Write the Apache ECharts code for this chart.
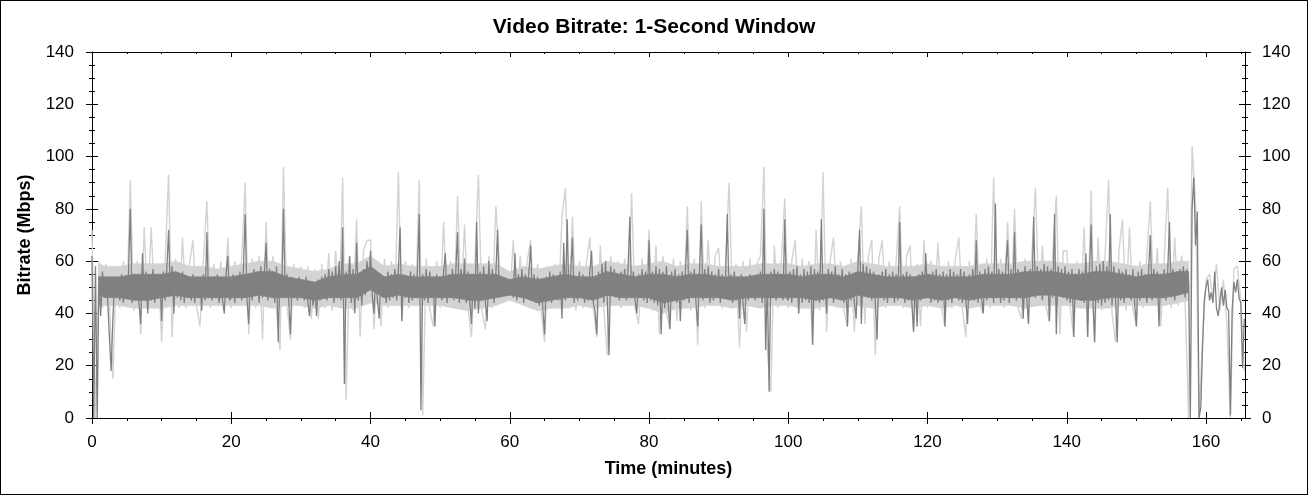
<!DOCTYPE html>
<html><head><meta charset="utf-8">
<script src="https://cdn.jsdelivr.net/npm/echarts@6/dist/echarts.min.js"></script>
<style>
html,body{margin:0;padding:0;background:#fff}
#wrap{position:relative;width:1308px;height:495px}
#c{width:1308px;height:495px}
#f{position:absolute;left:0;top:0;width:1308px;height:495px;box-sizing:border-box;border:1px solid #000;pointer-events:none}
</style>
</head><body>
<div id="wrap"><div id="c"></div><div id="f"></div></div>
<script>
// ---- Data (Mbps). Dark series: 0.25-minute steps; light envelope: 0.5-minute steps.
// Each segment covers 20 minutes starting at 20*segmentIndex.
const darkSeg0 = [62,0,58,0,54,39,56,46,54,45, 31,18,38,52,47,53,45,55,44,54, 46,56,80,44,55,46,53,44,36,63, 45,56,40,54,45,57,44,55,46,54, 37,56,45,57,72,47,58,40,55,46, 54,45,56,44,53,46,54,45,55,44, 53,46,54,41,55,45,71,46,53,45, 54,46,55,44,53,45,40,55,62,45];
const darkSeg1 = [46,55,44,54,46,56,45,57,78,46, 36,55,45,57,47,56,44,58,46,55, 67,45,57,46,56,44,58,29,55,47, 80,46,55,45,32,54,46,53,45,54, 46,53,45,54,44,39,52,43,51,39, 53,45,54,46,55,45,57,46,56,44, 58,46,60,45,73,13,56,47,62,44, 57,40,67,45,55,43,57,47,60,50];
const darkSeg2 = [64,47,40,56,45,38,55,46,54,44, 56,45,55,46,57,45,56,73,37,55, 46,54,44,56,45,55,46,57,78,3, 55,45,57,44,56,46,54,35,55,46, 53,45,56,63,44,55,46,57,45,56, 71,44,57,46,61,44,56,45,36,54, 42,75,40,56,45,58,44,37,60,46, 57,44,55,72,46,54,47,53,48,52];
const darkSeg3 = [47,53,46,63,45,55,46,57,44,55, 46,56,66,45,55,44,54,43,53,42, 32,54,45,56,44,55,46,54,45,56, 38,67,45,76,46,55,69,44,54,45, 56,46,55,44,54,45,56,64,44,41, 32,56,46,59,44,60,46,24,58,47, 57,46,55,45,56,46,57,45,58,77, 46,56,45,40,55,46,57,45,56,44];
const darkSeg4 = [68,45,56,44,58,43,57,32,56,42, 58,44,34,56,45,57,44,55,37,56, 45,57,72,44,56,46,57,44,35,56, 74,45,57,46,58,44,56,45,55,46, 57,44,55,46,54,78,45,55,44,56, 45,54,38,55,44,36,54,45,55,46, 54,45,55,46,56,44,80,26,52,10, 56,46,57,45,56,46,55,45,76,46];
const darkSeg5 = [45,56,44,57,46,58,40,55,44,57, 45,56,44,58,28,57,45,56,44,76, 45,55,40,57,46,56,44,58,46,55, 45,57,44,55,35,56,45,55,44,38, 57,72,36,59,47,58,46,57,45,56, 44,30,55,46,56,45,57,44,55,46, 56,44,55,45,75,46,55,44,56,45, 55,44,33,54,35,55,45,56,46,63];
const darkSeg6 = [46,55,44,56,45,57,44,55,46,56, 35,55,45,57,44,56,46,55,45,57, 44,56,45,36,55,46,57,45,68,44, 56,46,40,57,45,58,46,56,44,82, 46,57,44,56,45,58,68,44,57,46, 71,45,57,46,56,38,58,46,36,57, 47,77,46,58,47,57,45,59,47,58, 37,57,46,78,32,58,47,57,46,58];
const darkSeg7 = [45,56,44,57,31,55,46,57,45,56, 44,63,31,56,74,45,29,58,44,59, 43,60,44,58,45,78,43,58,46,29, 57,45,56,44,57,46,55,45,57,44, 35,56,45,57,46,55,44,56,70,45, 57,46,56,35,55,46,57,45,56,75, 46,57,45,56,47,57,48,58,46,57, 52,0,80,92,66,79,0,4,27,45];
const darkSeg8 = [50,53,45,48,44,56,42,39,45,50, 43,49,42,41,1,41,52,48,53,46, 44,19,38];

const lightSeg0 = [72,0,60,42,59,44,15,58,42,60, 43,91,41,60,32,73,42,73,43,58, 29,60,93,31,61,42,69,42,59,68, 43,35,60,83,42,59,43,60,42,69];
const lightSeg1 = [42,60,43,61,90,32,61,42,62,30, 75,42,62,41,26,96,43,30,59,43, 58,42,58,38,57,38,59,42,63,41, 64,42,92,7,62,41,76,31,64,68];
const lightSeg2 = [68,34,60,35,61,42,60,43,94,37, 60,42,59,43,91,1,61,42,35,60, 42,75,43,60,42,85,43,74,42,31, 60,93,41,34,62,42,81,60,46,55];
const lightSeg3 = [45,68,44,62,43,60,68,42,59,41, 29,58,42,59,43,77,88,42,77,41, 60,42,59,69,42,31,66,42,24,62, 43,60,42,61,43,86,42,36,61,42];
const lightSeg4 = [72,41,66,32,62,40,34,61,37,60, 42,81,41,61,28,83,42,68,43,62, 65,42,60,90,42,59,27,60,33,61, 43,59,62,96,25,10,66,42,60,84];
const lightSeg5 = [42,60,68,40,61,42,60,28,72,41, 94,33,60,69,42,60,41,35,61,33, 62,81,36,62,68,24,61,68,42,60, 43,60,81,42,62,66,33,59,35,68];
const lightSeg6 = [42,60,43,67,42,35,60,42,61,69, 42,31,60,42,78,43,40,61,42,92, 43,61,42,75,43,80,42,38,61,36, 63,88,44,66,43,37,63,85,32,64];
const lightSeg7 = [64,42,31,60,42,73,31,87,29,69, 41,62,91,40,29,64,76,41,73,42, 35,60,42,62,83,43,65,35,61,88, 42,69,43,62,44,0,104,82,0,30];
const lightSeg8 = [53,55,46,59,41,53,36,0,57,58,45,18];

// Dense-band extents read at t = 1, 2, 4, ... 156, 157.5 minutes.
const bandTimes = [1,2,4,6,8,10,12,14,16,18,20,22,24,26,28,30,32,34,36,38,40,42,44,46,48,50,52,54,56,58,60,62,64,66,68,70,72,74,76,78,80,82,84,86,88,90,92,94,96,98,100,102,104,106,108,110,112,114,116,118,120,122,124,126,128,130,132,134,136,138,140,142,144,146,148,150,152,154,156,157.5];
const coreLow  = [47,46,46,45,45,46,47,46,46,46, 46,46,47,46,46,46,45,46,46,46, 49,46,47,46,46,46,46,45,45,46, 47,46,44,45,46,46,45,47,46,46, 46,44,45,46,46,46,45,46,46,46, 46,46,45,46,45,47,46,46,46,45, 46,45,46,45,46,46,46,46,47,47, 46,45,45,46,46,46,46,46,47,48];
const coreHigh = [54,54,54,55,55,55,56,54,54,54, 54,55,56,56,54,53,52,54,55,55, 58,54,55,54,54,54,55,55,55,55, 53,54,53,54,55,54,54,56,55,54, 55,55,54,55,55,54,54,54,55,55, 55,54,55,55,54,56,55,54,54,54, 55,54,54,54,55,55,55,56,56,56, 55,55,56,56,55,54,55,55,56,56];
const envLow   = [43,43,43,42,42,42,43,43,43,43, 43,43,43,42,43,43,42,43,42,42, 44,43,43,43,43,43,42,41,42,43, 45,43,41,42,42,43,42,43,43,43, 42,40,42,42,43,43,42,43,42,43, 43,42,42,43,42,43,42,43,43,42, 43,42,43,42,43,43,43,42,43,43, 43,42,42,42,43,43,43,43,44,45];
const envHigh  = [59,58,58,59,59,59,60,58,58,57, 58,59,60,60,58,57,56,57,59,59, 62,58,59,58,58,58,59,59,59,59, 56,58,57,58,59,58,58,60,59,58, 59,60,58,59,59,58,58,58,59,59, 59,58,59,59,58,60,59,58,58,58, 59,58,58,58,59,59,59,60,60,60, 59,59,60,60,59,58,59,59,60,60];

const xMajorTicks = [0,20,40,60,80,100,120,140,160];
const xMinorTicks = [0,5,10,15,20,25,30,35,40,45,50,55,60,65,70,75,80,85,90,95,100,105,110,115,120,125,130,135,140,145,150,155,160,165];
const X_MAX = 165.6;
const Y_MAX = 140, Y_STEP = 20;

const darkSegments = [darkSeg0,darkSeg1,darkSeg2,darkSeg3,darkSeg4,darkSeg5,darkSeg6,darkSeg7,darkSeg8];
const lightSegments = [lightSeg0,lightSeg1,lightSeg2,lightSeg3,lightSeg4,lightSeg5,lightSeg6,lightSeg7,lightSeg8];
const SEG_MIN = 20;
function build(segs, step) {
  const out = [];
  segs.forEach((s, si) => s.forEach((v, k) => out.push([si * SEG_MIN + k * step, v])));
  return out;
}
const darkData = build(darkSegments, 0.25);
const lightData = build(lightSegments, 0.5);
function bandItems(lo, hi) {
  const out = [];
  for (let i = 0; i < bandTimes.length - 1; i++) {
    if (lo[i] == null || lo[i + 1] == null) continue;
    out.push([bandTimes[i], lo[i], hi[i], bandTimes[i + 1], lo[i + 1], hi[i + 1]]);
  }
  return out;
}
function bandRenderer(color) {
  return function (params, api) {
    const a = api.coord([api.value(0), api.value(1)]);
    const b = api.coord([api.value(3), api.value(4)]);
    const c = api.coord([api.value(3), api.value(5)]);
    const d = api.coord([api.value(0), api.value(2)]);
    return {type:'polygon', shape:{points:[a, b, c, d]},
      style:{fill:color, stroke:color, lineWidth:0.6}};
  };
}

const font = '"Liberation Sans", Arial, sans-serif';
const black = {color:'#000', width:1};
function xAx(extra) {
  return Object.assign({type:'value', min:0, max:X_MAX, splitLine:{show:false},
    axisLine:{show:false, onZero:false, lineStyle:black}, axisLabel:{show:false}}, extra);
}
function yAx(extra) {
  return Object.assign({type:'value', min:0, max:Y_MAX, interval:Y_STEP, splitLine:{show:false},
    axisLine:{show:false, onZero:false, lineStyle:black}, axisLabel:{show:false},
    minorTick:{show:true, splitNumber:4, length:3, lineStyle:black}}, extra);
}

const chart = echarts.init(document.getElementById('c'), null, {renderer:'canvas'});
chart.setOption({
  backgroundColor:'#fff',
  animation:false,
  title:{text:'Video Bitrate: 1-Second Window', left:'center', top:12,
    textStyle:{fontSize:21, fontWeight:'bold', color:'#000', fontFamily:font}},
  grid:{left:92, right:63, top:52, bottom:77, containLabel:false},
  xAxis:[
    xAx({position:'bottom', axisLine:{show:true, onZero:false, lineStyle:black},
      axisTick:{show:true, inside:false, length:6, customValues:xMajorTicks, lineStyle:black},
      axisLabel:{show:true, customValues:xMajorTicks, fontSize:17, color:'#000', margin:16, fontFamily:font},
      name:'Time (minutes)', nameLocation:'middle', nameGap:42,
      nameTextStyle:{fontSize:18, fontWeight:'bold', color:'#000', fontFamily:font}}),
    xAx({position:'bottom', axisTick:{show:true, inside:true, length:6, customValues:xMajorTicks, lineStyle:black}}),
    xAx({position:'bottom', axisTick:{show:true, inside:false, length:3, customValues:xMinorTicks, lineStyle:black}}),
    xAx({position:'top', axisLine:{show:true, onZero:false, lineStyle:black},
      axisTick:{show:true, inside:true, length:2, customValues:xMinorTicks, lineStyle:black}}),
    xAx({position:'top', axisTick:{show:true, inside:true, length:5, customValues:xMajorTicks, lineStyle:black}})
  ],
  yAxis:[
    yAx({position:'left', axisLine:{show:true, onZero:false, lineStyle:black},
      axisTick:{show:true, inside:false, length:6, lineStyle:black},
      axisLabel:{show:true, fontSize:17, color:'#000', margin:18, fontFamily:font},
      name:'Bitrate (Mbps)', nameLocation:'middle', nameGap:58, nameRotate:90,
      nameTextStyle:{fontSize:18, fontWeight:'bold', color:'#000', fontFamily:font}}),
    yAx({position:'left', axisTick:{show:true, inside:true, length:6, lineStyle:black}}),
    yAx({position:'right', axisLine:{show:true, onZero:false, lineStyle:black},
      axisTick:{show:true, inside:false, length:6, lineStyle:black},
      axisLabel:{show:true, fontSize:17, color:'#000', margin:17, fontFamily:font}}),
    yAx({position:'right', axisTick:{show:true, inside:true, length:6, lineStyle:black}})
  ],
  series:[
    {type:'custom', name:'envelope band', data:bandItems(envLow, envHigh), renderItem:bandRenderer('#d3d3d3'),
      encode:{x:[0,3], y:[1,2,4,5]}, silent:true, z:1},
    {type:'line', name:'envelope', data:lightData, showSymbol:false, symbol:'none',
      lineStyle:{color:'#d3d3d3', width:1.4}, silent:true, z:2},
    {type:'custom', name:'core band', data:bandItems(coreLow, coreHigh), renderItem:bandRenderer('#808080'),
      encode:{x:[0,3], y:[1,2,4,5]}, silent:true, z:3},
    {type:'line', name:'bitrate', data:darkData, showSymbol:false, symbol:'none',
      lineStyle:{color:'#808080', width:1.3}, silent:true, z:4}
  ]
});
</script>
</body></html>
